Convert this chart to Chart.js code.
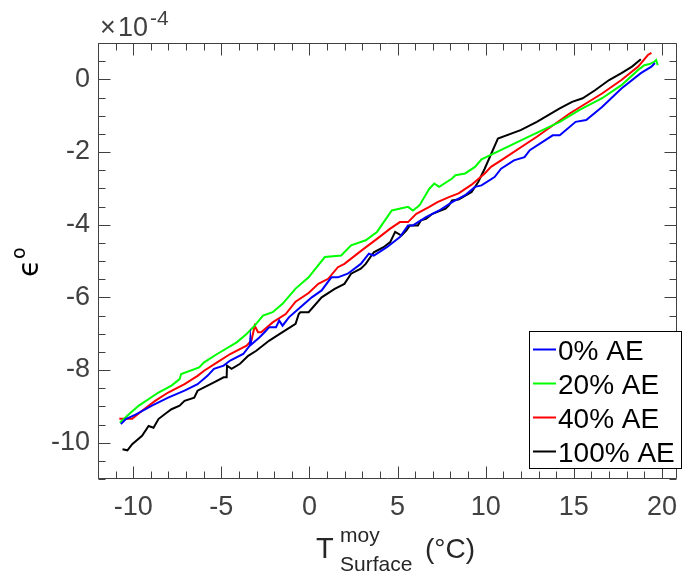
<!DOCTYPE html>
<html>
<head>
<meta charset="utf-8">
<script src="https://cdn.jsdelivr.net/npm/chart.js@4.4.1/dist/chart.umd.min.js"></script>
<style>
  html, body { margin: 0; padding: 0; background: #ffffff; }
  #wrap { width: 689px; height: 575px; }
</style>
</head>
<body>
<div id="wrap"><canvas id="chart" width="689" height="575"></canvas></div>
<script>
// --- data (x in °C, y in units of 1e-4) ---
const seriesLabels = ['0% AE', '20% AE', '40% AE', '100% AE'];
const seriesColors = ['#0000ff', '#00ff00', '#ff0000', '#000000'];

const ae0X = [-10.7, -10.42, -9.87, -8.94, -8.02, -7.09, -6.35, -5.79, -5.42, -4.87, -4.5, -3.76, -3.39, -3.35, -3.3, -2.83, -2.55, -2.28, -1.9, -1.72, -1.53, -1.17, -0.42, 0.13, 0.69, 1.24, 1.61, 2.17, 2.91, 3.37, 3.65, 4.39, 5.13, 5.59, 5.87, 6.61, 7.36, 8.09, 8.83, 9.39, 9.76, 10.5, 10.87, 11.6, 12.2, 12.5, 13.8, 14.2, 15.1, 15.7, 16.6, 17.7, 18.8, 19.4, 19.6];
const ae0Y = [-9.49, -9.35, -9.23, -8.98, -8.76, -8.57, -8.39, -8.16, -7.97, -7.88, -7.74, -7.56, -7.33, -7.1, -7.3, -7.1, -6.96, -6.82, -6.82, -6.64, -6.78, -6.55, -6.23, -6.0, -5.81, -5.45, -5.45, -5.35, -5.08, -4.8, -4.85, -4.62, -4.34, -4.02, -4.02, -3.79, -3.61, -3.38, -3.19, -2.96, -2.92, -2.69, -2.46, -2.23, -2.14, -1.95, -1.54, -1.54, -1.17, -1.12, -0.76, -0.25, 0.17, 0.35, 0.45];

const ae20X = [-10.76, -10.2, -9.68, -8.57, -7.83, -7.37, -7.28, -6.26, -5.98, -5.24, -4.13, -3.57, -3.11, -2.64, -2.09, -1.53, -0.79, -0.05, 0.87, 1.8, 2.36, 3.19, 3.83, 4.67, 5.59, 5.87, 6.24, 6.8, 7.08, 7.36, 8.09, 8.28, 8.83, 9.39, 9.76, 12.0, 14.2, 15.3, 16.6, 17.7, 18.65, 19.0, 19.3, 19.58, 19.67, 19.76];
const ae20Y = [-9.45, -9.2, -8.98, -8.62, -8.43, -8.25, -8.11, -7.93, -7.79, -7.56, -7.24, -7.01, -6.78, -6.5, -6.41, -6.18, -5.76, -5.45, -4.89, -4.85, -4.57, -4.43, -4.2, -3.61, -3.51, -3.61, -3.47, -3.01, -2.87, -2.96, -2.73, -2.64, -2.59, -2.41, -2.2, -1.68, -1.17, -0.85, -0.52, -0.16, 0.26, 0.39, 0.42, 0.49, 0.53, 0.39];

const ae40X = [-10.79, -10.06, -9.5, -8.76, -8.02, -7.09, -6.35, -5.98, -5.24, -4.5, -3.57, -3.29, -3.11, -2.92, -2.74, -2.09, -1.35, -0.79, -0.05, 0.5, 1.06, 1.61, 1.98, 3.09, 3.83, 4.58, 5.13, 5.59, 6.06, 6.8, 7.26, 7.91, 8.46, 9.2, 9.94, 10.3, 10.87, 12.9, 14.76, 16.6, 17.7, 18.65, 19.2, 19.4];
const ae40Y = [-9.34, -9.34, -9.12, -8.85, -8.62, -8.39, -8.16, -8.02, -7.79, -7.56, -7.33, -7.19, -6.78, -6.96, -6.96, -6.69, -6.46, -6.12, -5.88, -5.63, -5.49, -5.17, -5.08, -4.66, -4.39, -4.11, -3.93, -3.93, -3.7, -3.51, -3.38, -3.24, -3.14, -2.9, -2.59, -2.41, -2.23, -1.58, -0.94, -0.39, -0.02, 0.35, 0.67, 0.73];

const ae100X = [-10.61, -10.33, -10.06, -9.5, -9.13, -8.85, -8.57, -8.2, -7.83, -7.37, -7.09, -6.54, -6.35, -5.98, -5.42, -4.87, -4.7, -4.68, -4.42, -3.94, -3.48, -3.02, -2.28, -1.53, -0.79, -0.61, -0.52, -0.05, 0.69, 1.43, 1.98, 2.36, 2.91, 3.19, 3.65, 4.2, 4.58, 4.86, 5.22, 5.5, 5.69, 6.15, 6.33, 6.61, 6.98, 7.72, 7.91, 8.09, 8.46, 9.2, 9.58, 9.94, 10.69, 11.98, 12.9, 14.2, 14.9, 15.5, 16.2, 17.0, 17.7, 18.3, 18.8];
const ae100Y = [-10.18, -10.21, -10.04, -9.81, -9.54, -9.59, -9.35, -9.21, -9.08, -8.98, -8.85, -8.76, -8.57, -8.48, -8.34, -8.2, -8.2, -7.88, -7.97, -7.83, -7.61, -7.47, -7.19, -6.96, -6.73, -6.46, -6.41, -6.41, -6.0, -5.77, -5.63, -5.35, -5.21, -5.08, -4.76, -4.62, -4.48, -4.2, -4.3, -4.16, -4.02, -4.02, -3.88, -3.84, -3.7, -3.56, -3.47, -3.33, -3.31, -3.1, -2.82, -2.46, -1.63, -1.4, -1.17, -0.8, -0.62, -0.52, -0.3, -0.02, 0.17, 0.35, 0.55];

const xTickVals = [-10, -5, 0, 5, 10, 15, 20];
const yTickVals = [0, -2, -4, -6, -8, -10];

// --- styling ---
const FONT = "'Liberation Sans', Arial, Helvetica, sans-serif";
const GREEK_FONT = "'DejaVu Sans', sans-serif";
const AXIS_GREY = '#404040';
const LABEL_INK = '#262626';

const seriesXs = [ae0X, ae20X, ae40X, ae100X];
const seriesYs = [ae0Y, ae20Y, ae40Y, ae100Y];

const datasets = seriesLabels.map((label, i) => ({
    label: label,
    data: seriesXs[i].map((x, j) => ({ x: x, y: seriesYs[i][j] })),
    showLine: true,
    borderColor: seriesColors[i],
    backgroundColor: seriesColors[i],
    borderWidth: 2,
    pointRadius: 0,
    tension: 0,
    fill: false
}));

// Draws the MATLAB-like box with inward ticks, axis titles, exponent and legend
const boxAndLabels = {
    id: 'boxAndLabels',
    afterDraw(chart) {
        const { ctx, chartArea: a, scales: { x, y } } = chart;
        ctx.save();

        // box
        ctx.strokeStyle = AXIS_GREY;
        ctx.lineWidth = 1;
        const L = Math.round(a.left) + 0.5, R = Math.round(a.right) - 0.5;
        const T = Math.round(a.top) + 0.5, B = Math.round(a.bottom) - 0.5;
        ctx.beginPath();
        ctx.moveTo(L, T); ctx.lineTo(R, T); ctx.lineTo(R, B); ctx.lineTo(L, B); ctx.closePath();
        ctx.stroke();

        // x ticks: minor every 1, major at labels
        ctx.beginPath();
        for (let v = Math.ceil(x.min); v <= x.max; v++) {
            const len = xTickVals.includes(v) ? 12 : 7;
            const px = Math.round(x.getPixelForValue(v)) + 0.5;
            ctx.moveTo(px, B); ctx.lineTo(px, B - len);
            ctx.moveTo(px, T); ctx.lineTo(px, T + len);
        }
        // y ticks: minor every 0.5, major at labels
        for (let k = Math.ceil(y.min * 2); k <= y.max * 2; k++) {
            const v = k / 2;
            const len = yTickVals.includes(v) ? 12 : 7;
            const py = Math.round(y.getPixelForValue(v)) + 0.5;
            ctx.moveTo(L, py); ctx.lineTo(L + len, py);
            ctx.moveTo(R, py); ctx.lineTo(R - len, py);
        }
        ctx.stroke();

        // exponent label
        ctx.fillStyle = AXIS_GREY;
        ctx.textBaseline = 'alphabetic';
        ctx.textAlign = 'left';
        ctx.font = `27px ${FONT}`;
        ctx.fillText('\u00d7', 100, 36);
        ctx.fillText('10', 118, 36);
        ctx.font = `21px ${FONT}`;
        ctx.fillText('-4', 150, 25);

        // x title: T^moy_Surface (°C)
        ctx.fillStyle = LABEL_INK;
        ctx.font = `29px ${FONT}`;
        ctx.fillText('T', 316, 558);
        ctx.font = `28px ${FONT}`;
        ctx.fillText('(\u00b0C)', 425, 558);
        ctx.font = `21px ${FONT}`;
        ctx.fillText('moy', 340, 542);
        ctx.fillText('Surface', 340, 571);

        // y title: epsilon^o (rotated)
        ctx.save();
        ctx.translate(38, 277);
        ctx.rotate(-Math.PI / 2);
        ctx.fillStyle = '#000000';
        ctx.font = `28px ${GREEK_FONT}`;
        ctx.fillText('\u03f5', 0, 0);
        ctx.font = `19px ${GREEK_FONT}`;
        ctx.fillText('o', 18, -13);
        ctx.restore();

        // legend
        const lx = 529.5, ly = 331.5, lw = 152, lh = 137;
        ctx.fillStyle = '#ffffff';
        ctx.fillRect(lx, ly, lw, lh);
        ctx.strokeStyle = '#000000';
        ctx.strokeRect(lx, ly, lw, lh);
        ctx.font = `28px ${FONT}`;
        seriesLabels.forEach((label, i) => {
            const cy = 349.5 + i * 34;
            ctx.strokeStyle = seriesColors[i];
            ctx.lineWidth = 2;
            ctx.beginPath();
            ctx.moveTo(533, cy); ctx.lineTo(556, cy);
            ctx.stroke();
            ctx.fillStyle = '#000000';
            ctx.fillText(label, 558, cy + 10);
        });

        ctx.restore();
    }
};

const ctx = document.getElementById('chart').getContext('2d');

new Chart(ctx, {
    type: 'scatter',
    data: { datasets: datasets },
    options: {
        responsive: false,
        animation: false,
        devicePixelRatio: 1,
        layout: { padding: { top: 43, right: 0, bottom: 0, left: 0 } },
        plugins: {
            legend: { display: false },
            tooltip: { enabled: false }
        },
        scales: {
            x: {
                type: 'linear',
                min: -12,
                max: 20.83,
                grid: { display: false, drawTicks: false },
                border: { display: false },
                ticks: {
                    color: AXIS_GREY,
                    font: { family: FONT, size: 27 },
                    padding: 12,
                    maxRotation: 0,
                    callback: v => String(v)
                },
                afterBuildTicks: s => { s.ticks = xTickVals.map(v => ({ value: v })); },
                afterFit: s => { s.height = 96; }
            },
            y: {
                type: 'linear',
                min: -11,
                max: 1,
                grid: { display: false, drawTicks: false },
                border: { display: false },
                ticks: {
                    color: AXIS_GREY,
                    font: { family: FONT, size: 27 },
                    padding: 8,
                    callback: v => String(v)
                },
                afterBuildTicks: s => { s.ticks = yTickVals.map(v => ({ value: v })); },
                afterFit: s => { s.width = 98; }
            }
        }
    },
    plugins: [boxAndLabels]
});
</script>
</body>
</html>
